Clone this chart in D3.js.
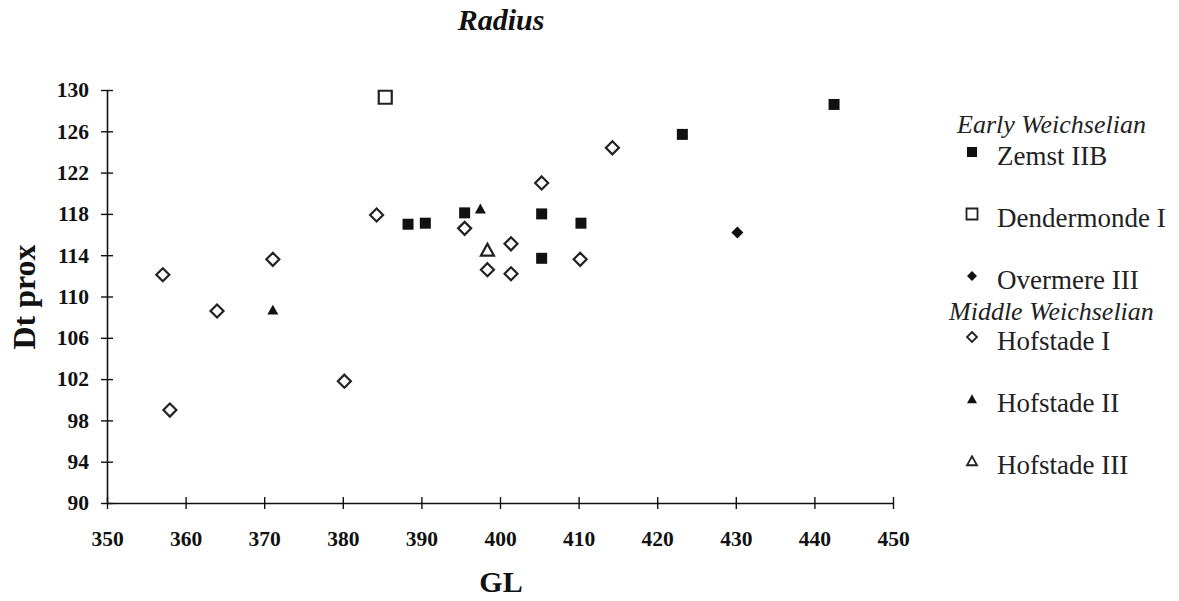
<!DOCTYPE html>
<html>
<head>
<meta charset="utf-8">
<script src="https://cdn.jsdelivr.net/npm/d3@7"></script>
<style>
  body { margin: 0; background: #fff; }
  svg { display: block; font-family: 'Liberation Serif', 'Times New Roman', serif; }
  .tick text { font-weight: bold; font-size: 21.5px; fill: #111; }
</style>
</head>
<body>
<script>
(function () {
  'use strict'
  const width = 1179
  const height = 601

  // GL (x) and Dt prox (y) per group
  const zemstGL = [388.3, 390.5, 395.5, 405.3, 405.3, 410.3, 423.2, 442.5]
  const zemstDt = [117.0, 117.1, 118.1, 118.0, 113.7, 117.1, 125.7, 128.6]
  const dendermondeGL = [385.4]
  const dendermondeDt = [129.3]
  const overmereGL = [430.2]
  const overmereDt = [116.2]
  const hofstade1GL = [357.1, 358.0, 364.0, 371.1, 380.2, 384.3, 395.5, 398.4, 401.4, 401.4, 405.3, 410.2, 414.3]
  const hofstade1Dt = [112.1, 99.0, 108.6, 113.6, 101.8, 117.9, 116.6, 112.6, 115.1, 112.2, 121.0, 113.6, 124.4]
  const hofstade2GL = [371.1, 397.5]
  const hofstade2Dt = [108.7, 118.5]
  const hofstade3GL = [398.4]
  const hofstade3Dt = [114.5]

  const xTicks = [350, 360, 370, 380, 390, 400, 410, 420, 430, 440, 450]
  const yTicks = [90, 94, 98, 102, 106, 110, 114, 118, 122, 126, 130]

  const series = [
    {name: 'Zemst IIB', shape: 'square', fill: true, gl: zemstGL, dt: zemstDt},
    {name: 'Dendermonde I', shape: 'square', fill: false, gl: dendermondeGL, dt: dendermondeDt},
    {name: 'Overmere III', shape: 'diamond', fill: true, gl: overmereGL, dt: overmereDt},
    {name: 'Hofstade I', shape: 'diamond', fill: false, gl: hofstade1GL, dt: hofstade1Dt},
    {name: 'Hofstade II', shape: 'triangle', fill: true, gl: hofstade2GL, dt: hofstade2Dt},
    {name: 'Hofstade III', shape: 'triangle', fill: false, gl: hofstade3GL, dt: hofstade3Dt}
  ]

  const x = d3.scaleLinear().domain([350, 450]).range([107, 893])
  const y = d3.scaleLinear().domain([90, 130]).range([503, 90])

  const svg = d3.select('body').append('svg')
    .attr('width', width)
    .attr('height', height)

  // marker path centred on 0,0; s = nominal size
  function markerPath (shape, s) {
    const h = s / 2
    if (shape === 'square') return `M${-h},${-h}H${h}V${h}H${-h}Z`
    if (shape === 'diamond') return `M0,${-h}L${h},0L0,${h}L${-h},0Z`
    return `M0,${-h * 0.95}L${h},${h * 0.85}L${-h},${h * 0.85}Z`
  }
  function plotSize (d) {
    if (d.shape === 'square') return d.fill ? 11 : 13
    if (d.shape === 'diamond') return d.fill ? 12 : 13
    return d.fill ? 11 : 13
  }

  // axes
  const xAxis = svg.append('g')
    .attr('transform', `translate(0, ${y(90)})`)
    .call(d3.axisBottom(x).tickValues(xTicks).tickSize(6).tickPadding(22).tickSizeOuter(0))
  xAxis.selectAll('.tick line').attr('y1', -6)
  const yAxis = svg.append('g')
    .attr('transform', `translate(${x(350)}, 0)`)
    .call(d3.axisLeft(y).tickValues(yTicks).tickSize(6).tickPadding(12).tickSizeOuter(0))
  yAxis.selectAll('.tick line').attr('x1', 6)
  xAxis.attr('font-family', null).attr('font-size', null)
  yAxis.attr('font-family', null).attr('font-size', null)
  svg.selectAll('.domain').attr('stroke', '#111').attr('stroke-width', 1.6)
  svg.selectAll('.tick line').attr('stroke', '#111').attr('stroke-width', 1.4)

  // points
  series.forEach(function (s) {
    const pts = s.gl.map((g, i) => ({gl: g, dt: s.dt[i]}))
    svg.append('g').selectAll('path')
      .data(pts)
      .enter().append('path')
      .attr('d', markerPath(s.shape, plotSize(s)))
      .attr('transform', d => `translate(${x(d.gl)}, ${y(d.dt)})`)
      .attr('fill', s.fill ? '#111' : '#fff')
      .attr('stroke', '#222')
      .attr('stroke-width', s.fill ? 0 : 2.2)
  })

  // titles
  svg.append('text')
    .attr('x', 501).attr('y', 30)
    .attr('text-anchor', 'middle')
    .style('font-size', '30px').style('font-weight', 'bold').style('font-style', 'italic')
    .attr('fill', '#111')
    .text('Radius')
  svg.append('text')
    .attr('x', 501).attr('y', 592)
    .attr('text-anchor', 'middle')
    .style('font-size', '30px').style('font-weight', 'bold')
    .attr('fill', '#111')
    .text('GL')
  svg.append('text')
    .attr('transform', 'translate(35, 297) rotate(-90)')
    .attr('text-anchor', 'middle')
    .style('font-size', '32px').style('font-weight', 'bold')
    .attr('fill', '#111')
    .text('Dt prox')

  // legend
  const legendRows = [
    {header: 'Early Weichselian', y: 133, x: 957},
    {item: 0, y: 165}, {item: 1, y: 227}, {item: 2, y: 289},
    {header: 'Middle Weichselian', y: 320, x: 949},
    {item: 3, y: 350}, {item: 4, y: 412}, {item: 5, y: 474}
  ]
  const legend = svg.append('g').attr('class', 'legend')
  legendRows.forEach(function (r) {
    if (r.header) {
      legend.append('text')
        .attr('x', r.x).attr('y', r.y)
        .style('font-size', '26px').style('font-style', 'italic')
        .attr('fill', '#222')
        .text(r.header)
      return
    }
    const s = series[r.item]
    const sz = s.shape === 'square' ? (s.fill ? 10 : 11) : 10
    legend.append('path')
      .attr('d', markerPath(s.shape, sz))
      .attr('transform', `translate(972, ${r.y - 13})`)
      .attr('fill', s.fill ? '#111' : '#fff')
      .attr('stroke', '#222')
      .attr('stroke-width', s.fill ? 0 : 1.8)
    legend.append('text')
      .attr('x', 997).attr('y', r.y)
      .style('font-size', '27px')
      .attr('fill', '#222')
      .text(s.name)
  })
})()
</script>
</body>
</html>
